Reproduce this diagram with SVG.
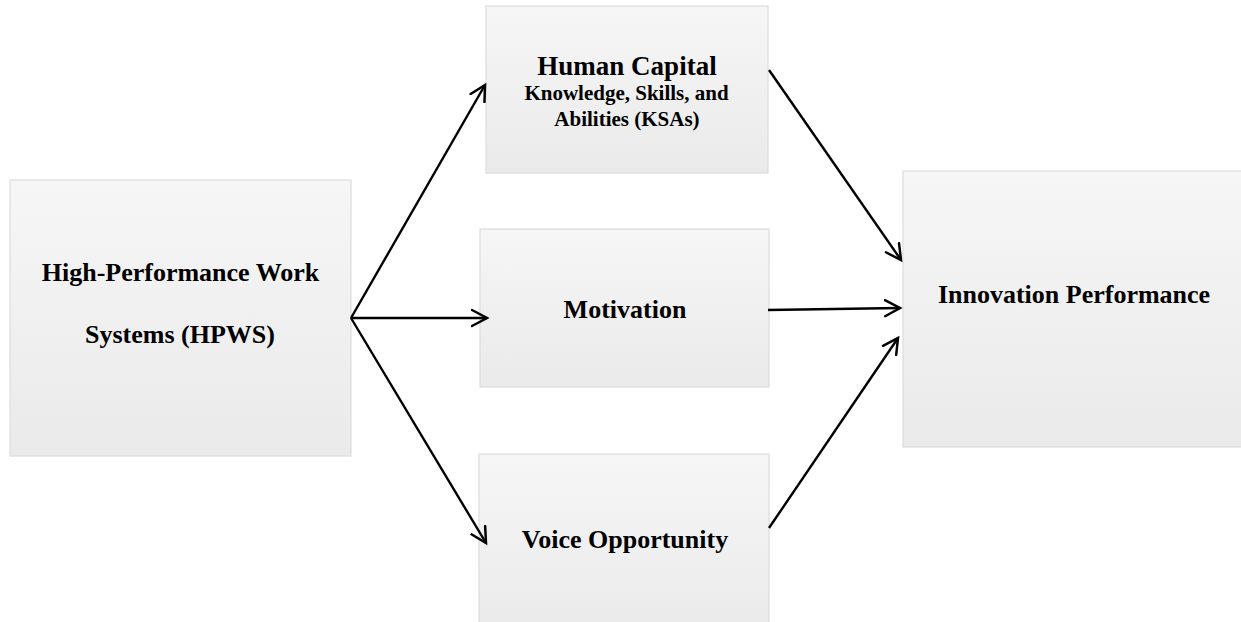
<svg xmlns="http://www.w3.org/2000/svg" width="1241" height="622" viewBox="0 0 1241 622">
<defs>
<linearGradient id="g" x1="0" y1="0" x2="0" y2="1">
<stop offset="0" stop-color="#f6f6f6"/>
<stop offset="1" stop-color="#eaeaea"/>
</linearGradient>
<marker id="ah" markerUnits="userSpaceOnUse" markerWidth="22" markerHeight="22" refX="16" refY="9" orient="auto" viewBox="0 0 22 18">
<path d="M1,1 L16,9 L1,17" fill="none" stroke="#000" stroke-width="2.5" stroke-linecap="round" stroke-linejoin="miter"/>
</marker>
<style>
.box{fill:url(#g);stroke:#dddddd;stroke-width:1.2}
.t{font-family:"Liberation Serif","Times New Roman",serif;font-weight:bold;fill:#000;text-anchor:middle}
.c{fill:none;stroke:#000;stroke-width:2.4;marker-end:url(#ah)}
</style>
</defs>
<g id="hpws">
<rect class="box" x="10" y="180" width="341" height="276"/>
<text class="t" x="180.5" y="281" font-size="26">High-Performance Work</text>
<text class="t" x="180" y="343" font-size="26">Systems (HPWS)</text>
</g>
<g id="human-capital">
<rect class="box" x="486" y="6" width="282" height="167"/>
<text class="t" x="627" y="75" font-size="27">Human Capital</text>
<text class="t" x="626.5" y="100" font-size="21">Knowledge, Skills, and</text>
<text class="t" x="627" y="126" font-size="21">Abilities (KSAs)</text>
</g>
<g id="motivation">
<rect class="box" x="480" y="229" width="289" height="158"/>
<text class="t" x="625" y="318" font-size="26">Motivation</text>
</g>
<g id="voice">
<rect class="box" x="479" y="454" width="290" height="180"/>
<text class="t" x="625" y="548" font-size="26">Voice Opportunity</text>
</g>
<g id="innovation">
<rect class="box" x="903" y="171" width="345" height="276"/>
<text class="t" x="1074" y="303" font-size="26">Innovation Performance</text>
</g>
<g id="connectors">
<path class="c" d="M351,318 L485,85"/>
<path class="c" d="M351,318 L487,318"/>
<path class="c" d="M351,318 L486,543"/>
<path class="c" d="M769,70 L901,260"/>
<path class="c" d="M768,310 L900,308"/>
<path class="c" d="M769,528 L898,338"/>
</g>
</svg>
